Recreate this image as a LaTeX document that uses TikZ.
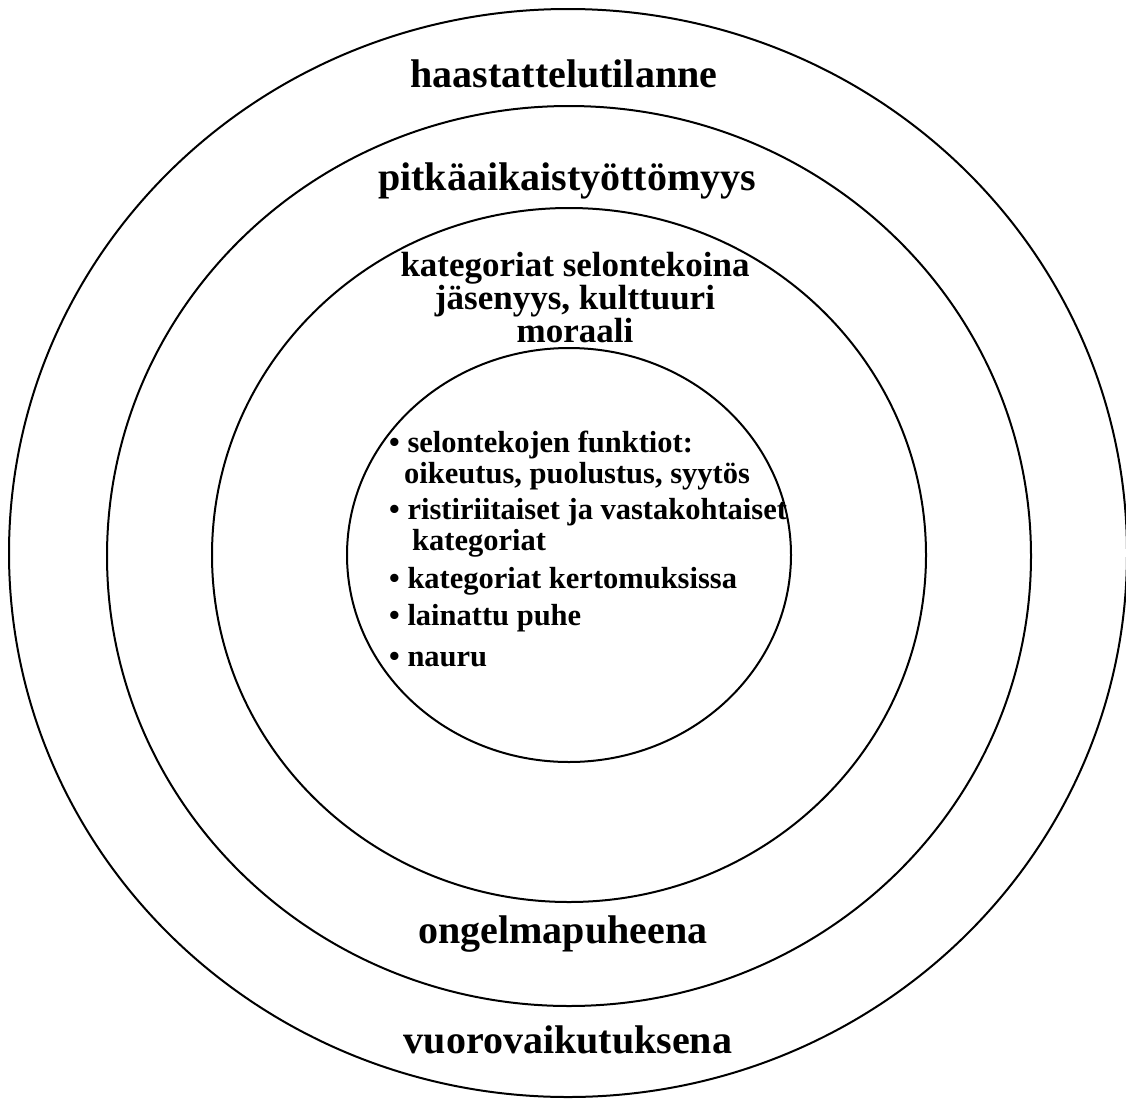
\documentclass[tikz,border=0pt]{standalone}
\usepackage{fontspec}
\setmainfont{Liberation Serif}
\begin{document}
\begin{tikzpicture}[x=1pt,y=-1pt,
    ring/.style={line width=2pt},
    biglabel/.style={anchor=base,inner sep=0pt,font=\fontsize{40}{40}\selectfont\bfseries},
    midlabel/.style={anchor=base,inner sep=0pt,font=\fontsize{35}{35}\selectfont\bfseries},
    item/.style={anchor=base west,inner sep=0pt,font=\fontsize{30.5}{30.5}\selectfont\bfseries}]
  \useasboundingbox (0,0) rectangle (1126,1100);
  \draw[ring] (568,553) ellipse [x radius=559,y radius=544];
  \draw[ring] (569,556) ellipse [x radius=462,y radius=450];
  \draw[ring] (569,555) ellipse [x radius=357,y radius=347];
  \draw[ring] (569,555) ellipse [x radius=222,y radius=207];
  \draw
    (564,87) node[biglabel] (tilanne){haastattelutilanne}
    (567,190) node[biglabel] (tyottomyys){pitkäaikaistyöttömyys}
    (563,943) node[biglabel] (ongelma){ongelmapuheena}
    (568,1053) node[biglabel] (vuoro){vuorovaikutuksena};
  \draw
    (575,276) node[midlabel] (kat){kategoriat selontekoina}
    (575,309) node[midlabel] (jas){jäsenyys, kulttuuri}
    (575,342) node[midlabel] (mor){moraali};
  \draw
    (389,452) node[item] (funk){• selontekojen funktiot:}
    (404,483) node[item] (oik){oikeutus, puolustus, syytös}
    (389,519) node[item] (rist){• ristiriitaiset ja vastakohtaiset}
    (412,550) node[item] (katb){kategoriat}
    (389,588) node[item] (kert){• kategoriat kertomuksissa}
    (389,625) node[item] (lain){• lainattu puhe}
    (389,666) node[item] (nauru){• nauru};
\end{tikzpicture}
\end{document}
